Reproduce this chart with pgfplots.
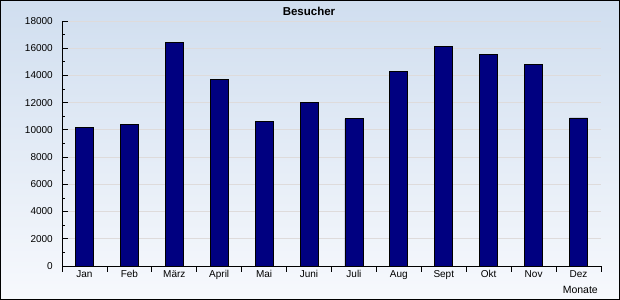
\documentclass[border=0pt]{standalone}
\usepackage{fontspec}
\setmainfont{Liberation Sans}
\usepackage{pgfplots}
\pgfplotsset{compat=1.18}
\definecolor{bgtop}{RGB}{208,222,239}
\definecolor{bgbot}{RGB}{247,249,253}
\definecolor{barblue}{RGB}{0,0,128}
\definecolor{gridc}{RGB}{222,219,219}
\begin{document}
\begin{tikzpicture}
\useasboundingbox (-62bp,-34bp) rectangle (558bp,266bp);
\shade[top color=bgtop,bottom color=bgbot] (-62bp,-34bp) rectangle (558bp,266bp);
\draw[black,line width=1bp] (-61.5bp,-33.5bp) rectangle (557.5bp,265.5bp);
\begin{axis}[at={(0bp,0bp)},anchor=south west, scale only axis,
  width=539bp, height=245bp,
  xmin=-0.5, xmax=11.5, ymin=0, ymax=18000,
  axis x line=bottom, axis y line=left,
  axis line style={-, black, line width=0.8bp},
  tick align=inside,
  tick style={black, line width=0.8bp},
  major tick length=5.5bp, minor tick length=3bp,
  ybar, bar width=0.4,
  xtick={-0.5,0.5,...,11.5}, xticklabels={},
  extra x ticks={0,1,2,3,4,5,6,7,8,9,10,11},
  extra x tick labels={Jan,Feb,März,April,Mai,Juni,Juli,Aug,Sept,Okt,Nov,Dez},
  extra x tick style={major tick length=0pt},
  xticklabel style={anchor=north, inner sep=0pt, yshift=-4.5bp, font=\fontsize{10bp}{12bp}\selectfont},
  ytick={0,2000,...,18000},
  minor y tick num=1,
  scaled y ticks=false,
  yticklabel style={anchor=east, inner sep=0pt, xshift=-9bp, font=\fontsize{10bp}{12bp}\selectfont,
    /pgf/number format/1000 sep={}, /pgf/number format/fixed},
  /pgf/number format/assume math mode=true,
  ymajorgrids, grid style={gridc, line width=0.8bp},
]
\addplot[fill=barblue, draw=black, line width=0.8bp] coordinates {
  (0,10150) (1,10370) (2,16400) (3,13680) (4,10590) (5,11990)
  (6,10810) (7,14265) (8,16100) (9,15515) (10,14780) (11,10880)
};
\end{axis}
\node[font=\bfseries\fontsize{11.5bp}{13bp}\selectfont] at (247bp,255bp) {Besucher};
\node[anchor=east, inner sep=0pt, font=\fontsize{10.5bp}{12bp}\selectfont] at (536bp,-23.5bp) {Monate};
\end{tikzpicture}
\end{document}
